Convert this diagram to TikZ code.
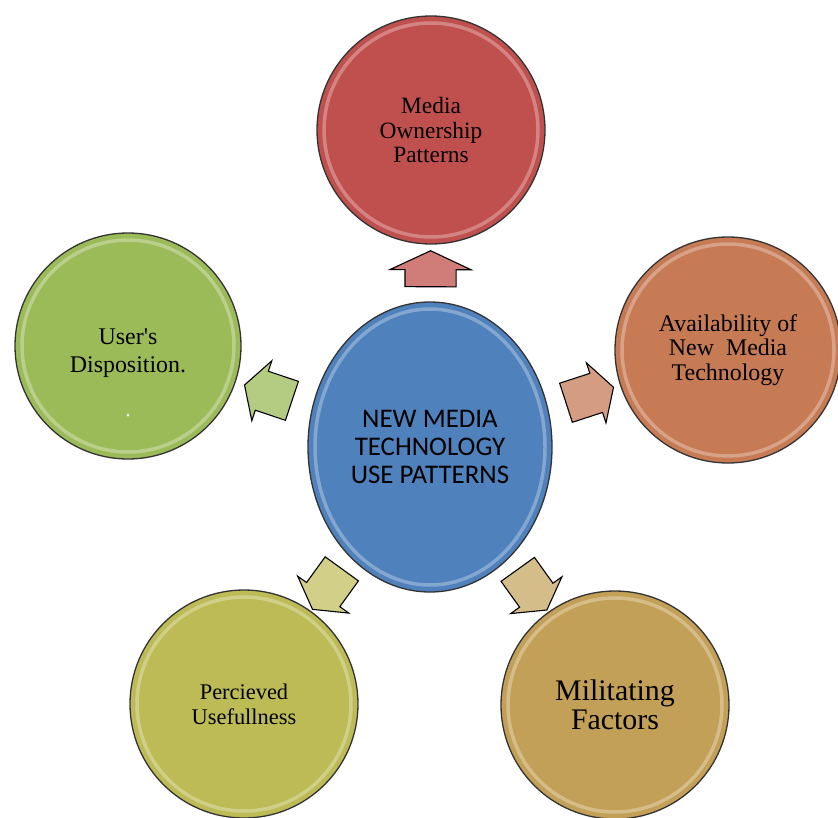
\documentclass[tikz,border=0pt]{standalone}
\usepackage{fontspec}
\setmainfont{Liberation Serif}
\newfontfamily\hubfont{Carlito}
\usepackage{tikz}
\usetikzlibrary{shapes.geometric,shapes.arrows,calc}
\definecolor{ownred}{HTML}{C0504D}
\definecolor{availorange}{HTML}{C67B55}
\definecolor{dispogreen}{HTML}{9BBB59}
\definecolor{hubblue}{HTML}{4F81BD}
\definecolor{usefulolive}{HTML}{BDBB55}
\definecolor{militgold}{HTML}{C3A057}
\tikzset{
  gloss/.style ={path picture={
                  \draw[white, opacity=.3, line width=3.5pt]
                    let \p1=($(path picture bounding box.north east)-(path picture bounding box.center)$) in
                    (path picture bounding box.center) ellipse [x radius=\x1-7bp, y radius=\y1-7bp];}},
  ball/.style  ={circle, draw=black!80, line width=1.3pt, minimum size=228bp, inner sep=0pt,
                 align=center, font=\fontsize{23.5}{25}\selectfont, gloss},
  hubnode/.style={ellipse, draw=black!80, line width=1.3pt, fill=hubblue, minimum width=244bp,
                 minimum height=290bp, inner sep=0pt, align=center,
                 font=\hubfont\fontsize{27}{28.5}\selectfont, gloss},
  fatarr/.style={single arrow, draw=black, line width=1.1pt, minimum height=50bp,
                 inner xsep=0pt, inner ysep=20bp, single arrow head extend=11bp,
                 single arrow tip angle=120, sloped, allow upside down},
}
\begin{document}
\begin{tikzpicture}[x=1bp, y=-1bp]
\useasboundingbox[fill=white] (0,0) rectangle (838,818);

\node[hubnode] (hub) at (430,447) {NEW MEDIA\\TECHNOLOGY\\USE PATTERNS};

\node[ball, fill=ownred] (owner) at (431,130) {Media\\Ownership\\Patterns};
\node[ball, fill=availorange, minimum size=226bp, font=\fontsize{24}{24.5}\selectfont] (avail) at (728,350)
  {Availability of\\New\ \ Media\\Technology};
\node[ball, fill=dispogreen, minimum size=226bp, font=\fontsize{24}{29}\selectfont] (dispo) at (128,346)
  {\rule{0pt}{30bp}User\textquotesingle s\\Disposition.};
\node[ball, fill=usefulolive, font=\fontsize{22.5}{25}\selectfont] (useful) at (244,704) {Percieved\\Usefullness};
\node[ball, fill=militgold, font=\fontsize{30}{29.5}\selectfont] (milit) at (615,705) {Militating\\Factors};
\fill[white] (128,415) circle (1.5bp);

% block arrows from the hub
\path (hub) -- node[fatarr, pos=.47, fill=ownred!75!white, minimum height=36bp, inner ysep=25bp,
                    single arrow head extend=15bp, single arrow tip angle=130] (toowner) {} (owner);
\path (hub) -- node[fatarr, fill=availorange!75!white] (toavail) {} (avail);
\path (hub) -- node[fatarr, fill=dispogreen!75!white] (todispo) {} (dispo);
\path (hub) -- node[fatarr, fill=usefulolive!70!white] (touseful) {} (useful);
\path (hub) -- node[fatarr, fill=militgold!70!white] (tomilit) {} (milit);
\end{tikzpicture}
\end{document}
